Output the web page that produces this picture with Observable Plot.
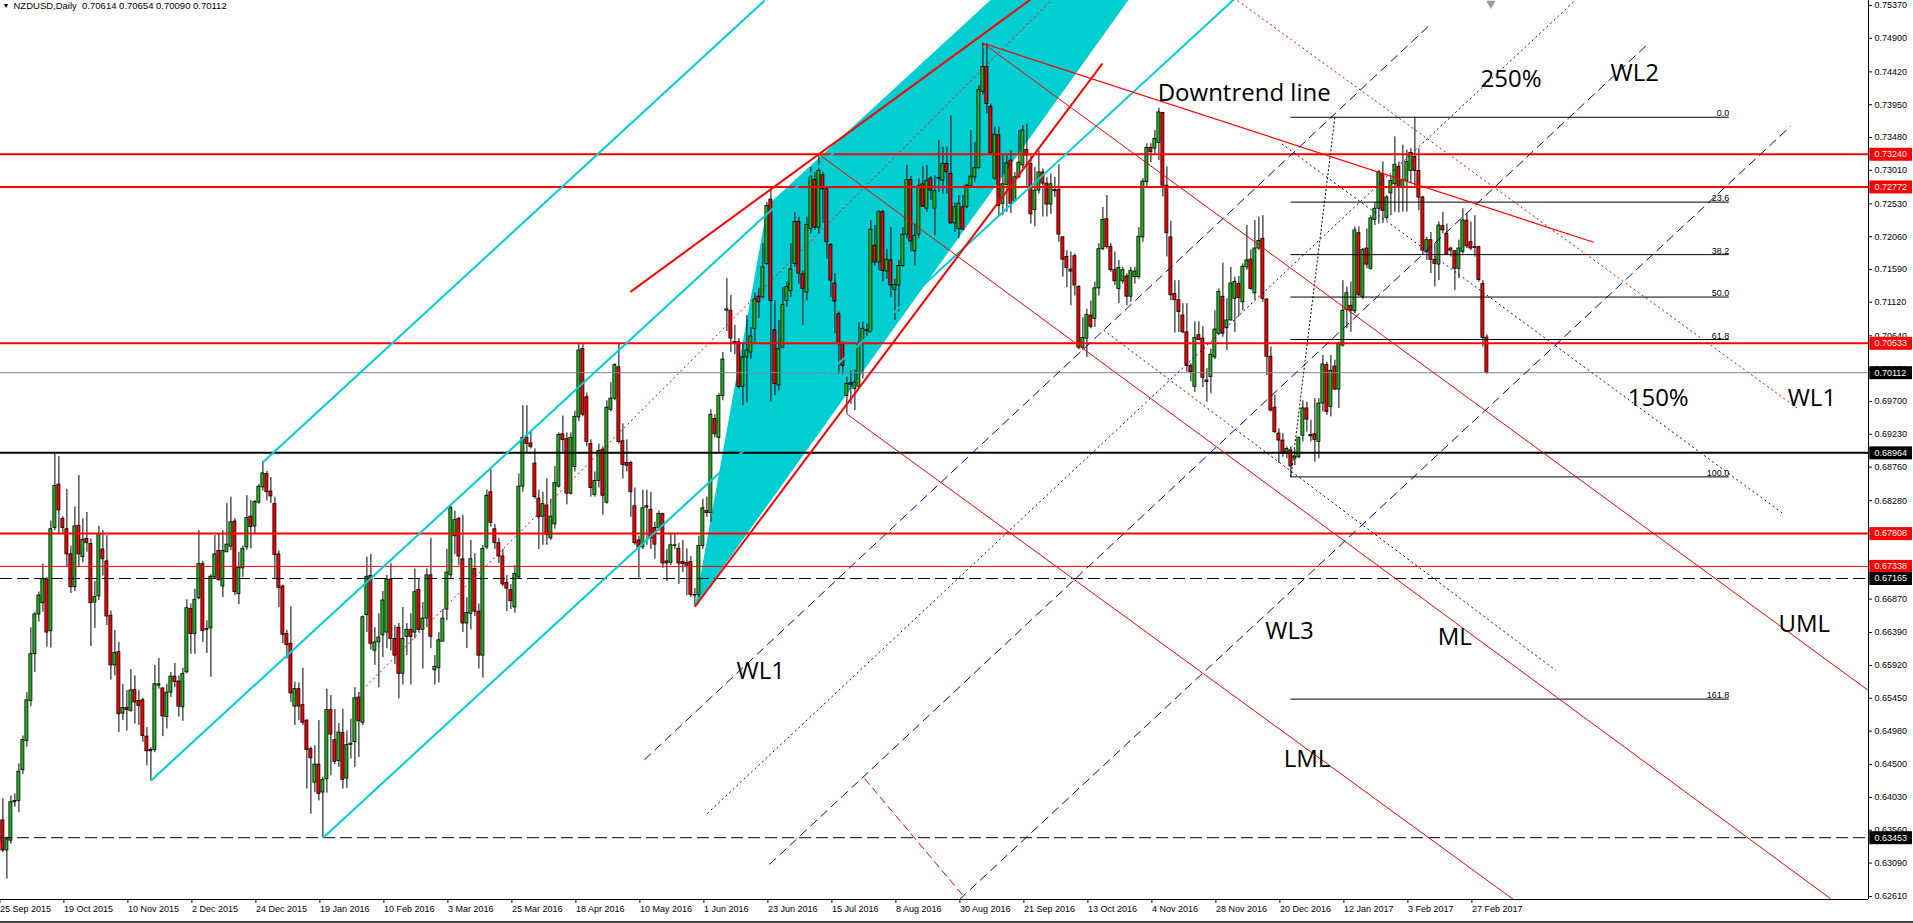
<!DOCTYPE html>
<html><head><meta charset="utf-8">
<script src="https://cdn.jsdelivr.net/npm/d3@7"></script>
<script src="https://cdn.jsdelivr.net/npm/@observablehq/plot@0.6"></script>
<style>
html,body{margin:0;padding:0;background:#fff;overflow:hidden;}
#chart svg{display:block;}
#bar{height:2px;background:#444;}
</style></head><body>
<div id="chart"></div><div id="bar"></div>
<script>
// ---------- DATA (prices in pips, i.e. x 1e-4) ----------
const opens = [
6340,6370,6327,6341,6396,6398,6442,6484,6541,6608,
6665,6681,6715,6641,6789,6851,6802,6787,6751,6704,
6792,6747,6773,6766,6682,6691,6758,6741,6663,6592,
6611,6523,6531,6527,6557,6541,6542,6490,6471,6471,
6563,6559,6518,6553,6576,6569,6532,6582,6673,6637,
6688,6737,6644,6645,6718,6756,6705,6754,6762,6798,
6694,6731,6761,6805,6791,6825,6847,6866,6841,6823,
6751,6705,6637,6623,6533,6558,6535,6513,6472,6424,
6450,6410,6429,6528,6485,6455,6495,6430,6478,6482,
6546,6510,6664,6720,6613,6625,6635,6639,6715,6630,
6646,6580,6633,6643,6639,6700,6643,6659,6721,6585,
6588,6626,6672,6721,6777,6802,6744,6652,6666,6730,
6669,6606,6761,6840,6787,6767,6748,6710,6700,6675,
6718,6848,6918,6910,6881,6831,6805,6821,6774,6794,
6848,6923,6916,6838,6876,6947,7045,6976,6909,6836,
6856,6901,6825,6958,6974,7019,6913,6882,6882,6820,
6771,6761,6818,6815,6789,6789,6809,6741,6739,6764,
6759,6740,6739,6740,6693,6693,6763,6813,6810,6945,
6918,6978,7100,7100,7055,7055,6991,7033,7040,7074,
7120,7119,7167,7259,7072,6993,7047,7114,7128,7167,
7227,7152,7126,7217,7287,7219,7294,7274,7194,7139,
7095,7052,6978,6996,6988,6991,7056,7072,7069,7193,
7169,7241,7156,7172,7130,7136,7164,7209,7287,7185,
7209,7281,7246,7289,7246,7290,7286,7310,7296,7225,
7217,7248,7248,7278,7291,7304,7413,7449,7392,7289,
7351,7253,7280,7315,7257,7291,7308,7330,7310,7244,
7272,7298,7282,7252,7273,7273,7205,7177,7159,7178,
7134,7047,7060,7093,7088,7132,7188,7231,7191,7158,
7131,7142,7149,7120,7148,7148,7205,7284,7333,7332,
7340,7383,7279,7205,7124,7115,7093,7069,7021,6991,
7065,7060,7000,7005,7033,7067,7120,7075,7086,7117,
7138,7112,7162,7173,7125,7189,7203,7116,7034,6961,
6924,6914,6895,6900,6888,6890,6921,6960,6922,6923,
6912,6967,7022,6962,7020,6987,7050,7101,7107,7099,
7211,7120,7189,7160,7230,7246,7296,7233,7268,7281,
7306,7276,7286,7300,7320,7300,7262,7184,7201,7173,
7166,7221,7210,7189,7185,7160,7184,7229,7198,7191,
7191,7138,7061.4];
const highs = [
6385,6401,6346,6405,6408,6451,6491,6553,6646,6668,
6697,6737,6718,6799,6896,6891,6805,6844,6763,6819,
6864,6802,6811,6773,6712,6791,6785,6778,6670,6642,
6625,6565,6556,6586,6577,6556,6545,6503,6474,6592,
6602,6560,6565,6582,6595,6577,6588,6686,6680,6701,
6785,6741,6656,6722,6778,6780,6785,6824,6833,6802,
6754,6763,6835,6828,6828,6851,6883,6870,6861,6833,
6756,6707,6642,6676,6568,6567,6588,6514,6475,6477,
6513,6432,6558,6549,6529,6509,6529,6498,6515,6560,
6553,6663,6747,6751,6646,6666,6698,6721,6738,6649,
6652,6675,6652,6666,6730,6715,6682,6730,6774,6606,
6639,6672,6758,6820,6813,6804,6807,6689,6771,6752,
6680,6764,6843,6872,6794,6774,6758,6721,6708,6735,
6866,6964,6964,6928,6902,6843,6840,6859,6830,6877,
6925,6949,6925,6925,6956,7053,7053,6982,6915,6869,
6909,6905,6971,6997,7024,7053,6938,6915,6884,6846,
6777,6843,6843,6840,6797,6813,6810,6758,6781,6781,
6767,6771,6759,6748,6702,6777,6830,6833,6958,6951,
6981,7040,7146,7122,7079,7060,7053,7093,7076,7125,
7132,7196,7255,7274,7114,7086,7133,7141,7196,7241,
7234,7157,7234,7305,7298,7324,7298,7277,7196,7153,
7098,7055,7005,7014,7015,7083,7084,7081,7229,7222,
7243,7243,7188,7219,7145,7172,7219,7308,7292,7224,
7289,7306,7308,7292,7293,7344,7334,7334,7379,7254,
7265,7265,7281,7358,7341,7422,7483,7482,7396,7363,
7363,7322,7324,7329,7298,7358,7365,7367,7322,7305,
7329,7303,7291,7296,7291,7309,7206,7186,7184,7181,
7136,7090,7102,7114,7141,7196,7248,7265,7196,7184,
7172,7162,7153,7162,7162,7219,7289,7339,7339,7358,
7390,7384,7306,7228,7143,7143,7110,7110,7024,7084,
7084,7077,7017,7045,7100,7131,7168,7117,7162,7148,
7149,7167,7222,7187,7229,7234,7236,7117,7048,6979,
6931,6924,6905,6905,6901,6919,6971,6969,6943,6974,
6974,7036,7026,7036,7029,7055,7143,7134,7141,7220,
7220,7189,7217,7236,7255,7301,7313,7265,7294,7349,
7313,7337,7330,7332,7377,7332,7264,7205,7212,7196,
7227,7241,7224,7191,7186,7201,7246,7239,7227,7236,
7192,7143,7065.4];
const lows = [
6330,6324,6286,6336,6389,6381,6436,6475,6533,6582,
6654,6668,6618,6617,6785,6781,6780,6732,6695,6698,
6732,6739,6754,6619,6645,6685,6720,6649,6571,6577,
6496,6513,6498,6525,6508,6506,6482,6448,6427,6467,
6558,6490,6501,6546,6560,6518,6512,6580,6608,6608,
6686,6625,6609,6575,6716,6713,6689,6754,6756,6692,
6679,6718,6757,6759,6780,6823,6842,6828,6824,6716,
6675,6623,6601,6539,6506,6513,6506,6415,6379,6410,
6398,6345,6409,6434,6450,6446,6415,6416,6458,6446,
6460,6506,6639,6614,6592,6560,6603,6616,6613,6593,
6544,6564,6606,6564,6630,6639,6587,6646,6616,6564,
6567,6626,6656,6715,6751,6735,6639,6616,6643,6662,
6587,6574,6758,6790,6758,6738,6705,6669,6672,6667,
6715,6840,6895,6902,6830,6758,6764,6764,6771,6787,
6846,6895,6822,6836,6869,6941,6948,6905,6833,6833,
6846,6807,6823,6955,6971,6909,6859,6869,6804,6764,
6717,6758,6764,6758,6744,6784,6731,6712,6735,6758,
6708,6725,6692,6689,6677,6689,6758,6804,6797,6918,
6895,6971,7070,7040,7037,6988,6964,6968,7030,7053,
7089,7117,7165,6969,6978,6985,7045,7105,7119,7162,
7138,7079,7114,7210,7215,7210,7225,7174,7119,7067,
7009,7009,6952,6966,6957,6990,7002,7062,7067,7164,
7157,7141,7145,7119,7086,7098,7162,7203,7184,7164,
7203,7248,7241,7258,7207,7269,7267,7267,7224,7212,
7203,7215,7246,7277,7284,7303,7409,7382,7323,7287,
7236,7236,7241,7239,7255,7289,7303,7277,7224,7220,
7267,7234,7234,7238,7262,7198,7148,7133,7107,7121,
7044,7043,7033,7074,7076,7121,7186,7188,7155,7136,
7110,7138,7107,7112,7138,7145,7198,7277,7312,7325,
7315,7263,7177,7114,7068,7069,7067,7012,6998,6983,
7057,6990,6969,6981,7030,7065,7062,7043,7085,7069,
7091,7100,7158,7129,7115,7186,7112,7007,6955,6924,
6881,6890,6888,6862,6878,6888,6912,6926,6912,6883,
6888,6955,6950,6948,6986,6960,7048,7074,7069,7096,
7120,7116,7160,7158,7222,7224,7225,7229,7236,7241,
7240,7241,7241,7282,7277,7243,7179,7172,7153,7134,
7143,7210,7179,7177,7129,7146,7181,7189,7186,7177,
7141,7048,7009];
const closes = [
6370,6327,6343,6396,6398,6440,6485,6542,6608,6665,
6692,6716,6639,6787,6849,6814,6789,6751,6704,6791,
6751,6772,6767,6681,6690,6780,6744,6662,6592,6610,
6522,6531,6528,6556,6539,6534,6491,6469,6469,6565,
6565,6519,6553,6576,6568,6533,6580,6674,6637,6686,
6737,6641,6643,6719,6751,6714,6756,6765,6797,6697,
6732,6759,6803,6790,6826,6848,6867,6840,6834,6750,
6703,6636,6621,6552,6558,6533,6510,6471,6459,6450,
6408,6428,6528,6493,6454,6496,6428,6478,6480,6545,
6512,6661,6719,6623,6625,6632,6685,6715,6630,6606,
6580,6630,6643,6633,6697,6643,6659,6721,6633,6590,
6628,6659,6725,6817,6800,6748,6652,6667,6744,6669,
6606,6759,6835,6796,6767,6748,6708,6702,6684,6723,
6848,6918,6909,6905,6833,6804,6823,6779,6805,6853,
6922,6915,6838,6918,6948,7043,6951,6912,6846,6856,
6899,6835,6961,6974,7022,6912,6879,6878,6840,6767,
6761,6817,6820,6774,6765,6809,6738,6738,6764,6763,
6738,6737,6735,6693,6692,6763,6817,6810,6951,6923,
6978,7030,7102,7060,7053,6991,7033,7043,7063,7116,
7112,7162,7250,7114,6995,7045,7108,7134,7159,7227,
7153,7131,7223,7292,7219,7300,7274,7198,7143,7113,
7052,7021,6995,6994,6997,7052,7074,7071,7216,7169,
7241,7157,7173,7136,7137,7164,7209,7287,7199,7207,
7278,7249,7286,7272,7271,7289,7310,7298,7225,7248,
7253,7216,7279,7292,7304,7416,7449,7396,7325,7352,
7250,7281,7311,7253,7291,7312,7358,7322,7238,7272,
7298,7282,7252,7281,7271,7209,7173,7161,7156,7136,
7047,7061,7094,7077,7132,7188,7230,7191,7158,7142,
7161,7158,7120,7157,7156,7206,7285,7333,7327,7346,
7384,7279,7211,7122,7115,7098,7069,7021,7012,7061,
7058,7004,6998,7037,7073,7127,7067,7086,7139,7141,
7118,7163,7172,7131,7189,7200,7117,7034,6957,6926,
6914,6895,6902,6877,6891,6918,6960,6944,6920,6915,
6967,7023,6955,7014,6987,7053,7100,7125,7100,7215,
7122,7187,7166,7232,7246,7298,7243,7262,7286,7309,
7276,7287,7313,7326,7300,7262,7186,7201,7173,7167,
7222,7215,7180,7186,7160,7189,7229,7192,7189,7190,
7144,7061,7011.2];

const dateLabels = ["25 Sep 2015","19 Oct 2015","10 Nov 2015","2 Dec 2015","24 Dec 2015","19 Jan 2016",
 "10 Feb 2016","3 Mar 2016","25 Mar 2016","18 Apr 2016","10 May 2016","1 Jun 2016","23 Jun 2016",
 "15 Jul 2016","8 Aug 2016","30 Aug 2016","21 Sep 2016","13 Oct 2016","4 Nov 2016","28 Nov 2016",
 "20 Dec 2016","12 Jan 2017","3 Feb 2017","27 Feb 2017"];
const dateTickBars = [0,16,32,48,64,80,96,112,128,144,160,176,192,208,224,240,256,272,288,304,320,336,352,368];

// right-axis tick labels visible in the chart (0.67810 / 0.67340 sit fully under price boxes)
const priceTicks = [0.75370,0.74900,0.74420,0.73950,0.73480,0.73010,0.72530,0.72060,0.71590,0.71120,
 0.70640,0.70170,0.69700,0.69230,0.68760,0.68280,0.66870,0.66390,0.65920,0.65450,
 0.64980,0.64500,0.64030,0.63560,0.63090,0.62610];

// horizontal levels
const redThickLevels = [0.73240, 0.72772, 0.70533, 0.67808];
const redThinLevels = [0.67338];
const blackThickLevels = [0.68964];
const dashedLevels = [0.67165, 0.63453];
const currentPrice = [0.70112];

// Fibonacci retracement (anchors: bar index, price)
const fibLevels = [0, 23.6, 38.2, 50.0, 61.8, 100.0, 161.8];
const fibLowBar = 323, fibLow = 0.6862, fibHighBar = 334, fibHigh = 0.7377, fibEndBar = 432.6;

// drawn objects: [bar1, price1, bar2, price2]
const cyanLines = [[38,0.6427,250,0.7544],[81,0.6345,309,0.7547],[66,0.6883,191.4,0.7544]];
const cyanFill = [[174,0.6676],[192.15,0.7251],[348.5,0.8075]];
const redThickLines = [[157.9,0.7127,258,0.7546],[174,0.6676,275.9,0.7454]];
const downtrendLine = [[246,0.7483,398.7,0.7198]];
const pitchforkLines = [[246,0.7483,467.4,0.6556],[205,0.7324,457.9,0.6258],[212,0.6952,378.6,0.6257]];
const redDottedLines = [[90,0.6552,263,0.7544],[309.7,0.7544,449.7,0.6960]];
const redDashedLines = [[216.4,0.6430,241.4,0.6260]];
const blueDashedLines = [[161.4,0.6457,357.9,0.7510],[192.65,0.6307,411.9,0.7480],[240.2,0.6257,447.9,0.7364]];
const blueDottedLines = [[177.1,0.6380,394,0.7544],[320.7,0.7339,445.9,0.6810],[276.2,0.7072,389.2,0.6585]];

const annotText = ["Downtrend line","250%","WL2","150%","WL1","WL1","WL3","ML","UML","LML"];
const annotBar = [289.7,370.4,402.9,407.2,447.2,184.4,316.6,359.7,444.9,321.2];
const annotPrice = [0.7412,0.7431,0.7440,0.6974,0.6974,0.6583,0.6641,0.6632,0.6651,0.6457];

const shiftMarkerBar = [373];
const header = "NZDUSD,Daily  0.70614 0.70654 0.70090 0.70112";

// ---------- CHART ----------
const W = 1913, H = 921, MR = 45, MB = 22;
const xDomain = [0.4, 467.4];
const yDomain = [0.62568, 0.75442];
const pricePerPx = (yDomain[1]-yDomain[0])/(H-MB);
const barPerPx = (xDomain[1]-xDomain[0])/(W-MR);

const bars = opens.map((o,i)=>({i, o:o/1e4, h:highs[i]/1e4, l:lows[i]/1e4, c:closes[i]/1e4}));
const seg = arr => arr.map(([i1,p1,i2,p2])=>({i1,p1,i2,p2}));
const fillPts = cyanFill.map(([i,p])=>({i,p}));
const annots = annotText.map((t,k)=>({t, i:annotBar[k], p:annotPrice[k]}));
const fibData = fibLevels.map(l=>({l, p: fibHigh - l/100*(fibHigh-fibLow)}));
const boxes = [
  ...redThickLevels.map(p=>({p, c:"#ff0000"})),
  ...redThinLevels.map(p=>({p, c:"#ff0000"})),
  ...currentPrice.map(p=>({p, c:"#000000"})),
  ...blackThickLevels.map(p=>({p, c:"#000000"})),
  ...dashedLevels.map(p=>({p, c:"#000000"}))
];
const font = "'Liberation Sans', Arial, sans-serif";
const bull = "#22b422", bear = "#ff0000", cyan = "#00CED1", navy = "#000099";
const L = o => Object.assign({x1:"i1", y1:"p1", x2:"i2", y2:"p2", clip:true}, o);

const chart = Plot.plot({
  width: W, height: H, marginLeft: 0, marginTop: 0, marginRight: MR, marginBottom: MB,
  style: {fontFamily: font, fontSize: "9px", background: "#fff", color: "#000", overflow: "visible"},
  x: {type: "linear", domain: xDomain, axis: null},
  y: {type: "linear", domain: yDomain, axis: null},
  marks: [
    Plot.line(fillPts, {x:"i", y:"p", fill: cyan, stroke: "none", clip: true}),
    Plot.ruleX(bars, {x:"i", y1:"l", y2:"h", stroke:"#000", strokeWidth:1}),
    Plot.rect(bars, {x1: d=>d.i-0.38, x2: d=>d.i+0.38, y1:"o", y2:"c",
      fill: d => d.c >= d.o ? bull : bear, stroke:"#000", strokeWidth:0.8}),
    // horizontal levels
    Plot.ruleY(redThickLevels, {stroke:"#ff0000", strokeWidth:2}),
    Plot.ruleY(redThinLevels, {stroke:"#ff0000", strokeWidth:1}),
    Plot.ruleY(blackThickLevels, {stroke:"#000", strokeWidth:2}),
    Plot.ruleY(dashedLevels, {stroke:"#000", strokeWidth:1, strokeDasharray:"12,5"}),
    Plot.ruleY(currentPrice, {stroke:"#778899", strokeWidth:1}),
    // fibonacci
    Plot.ruleY(fibData, {y:"p", x1: ()=>fibLowBar, x2: ()=>fibEndBar, stroke:"#000", strokeWidth:1}),
    Plot.text(fibData, {x: ()=>fibEndBar, y:"p", text: d=>d.l.toFixed(1), textAnchor:"end",
      lineAnchor:"bottom", dy:-1, fontSize:9, fill:"#000"}),
    Plot.link([{i1:fibLowBar,p1:fibLow,i2:fibHighBar,p2:fibHigh}], L({stroke:"#000", strokeDasharray:"2,2"})),
    // drawn lines
    Plot.link(seg(cyanLines), L({stroke: cyan, strokeWidth: 2})),
    Plot.link(seg(redThickLines), L({stroke:"#ff0000", strokeWidth:2})),
    Plot.link(seg(downtrendLine), L({stroke:"#ff0000", strokeWidth:1.2})),
    Plot.link(seg(pitchforkLines), L({stroke:"#ff0000", strokeWidth:1})),
    Plot.link(seg(redDottedLines), L({stroke:"#ff0000", strokeWidth:1, strokeDasharray:"2,3"})),
    Plot.link(seg(redDashedLines), L({stroke:"#ff0000", strokeWidth:1, strokeDasharray:"8,4"})),
    Plot.link(seg(blueDashedLines), L({stroke: navy, strokeWidth:1, strokeDasharray:"9,5"})),
    Plot.link(seg(blueDottedLines), L({stroke: navy, strokeWidth:1, strokeDasharray:"2,3"})),
    // annotations
    Plot.text(annots, {x:"i", y:"p", text:"t", textAnchor:"start", lineAnchor:"middle",
      fontSize:24, fontFamily:"'Open Sans', sans-serif", fill:"#000"}),
    // chart-shift marker
    Plot.dot(shiftMarkerBar, {x: d=>d, frameAnchor:"top", dy:3, symbol:"triangle", rotate:180, r:3.5,
      fill:"#9a9a9a", stroke:"none"}),
    // axes
    Plot.ruleX([xDomain[1]], {stroke:"#000", strokeWidth:1}),
    Plot.ruleY([yDomain[0]], {stroke:"#000", strokeWidth:1}),
    Plot.axisY(priceTicks, {anchor:"right", tickFormat: d=>d.toFixed(5), tickSize:3, tickPadding:3, fontSize:9}),
    Plot.axisX(dateTickBars, {anchor:"bottom", tickFormat: d=>dateLabels[dateTickBars.indexOf(d)],
      textAnchor:"start", dx:1, tickSize:4, tickPadding:2, fontSize:9}),
    // price boxes
    Plot.rect(boxes, {x1: ()=>xDomain[1]+1.3*barPerPx, x2: ()=>xDomain[1]+44*barPerPx,
      y1: d=>d.p-7*pricePerPx, y2: d=>d.p+6*pricePerPx, fill: d=>d.c}),
    Plot.text(boxes, {x: ()=>xDomain[1]+6*barPerPx, y:"p", text: d=>d.p.toFixed(5), fill:"#fff",
      textAnchor:"start", fontSize:9}),
    // header
    Plot.text(["\u25BC"], {frameAnchor:"top-left", dx:2, dy:3, textAnchor:"start", lineAnchor:"top", fontSize:7, fill:"#000"}),
    Plot.text([header], {frameAnchor:"top-left", dx:13, dy:2, textAnchor:"start", lineAnchor:"top", fontSize:9.5, fill:"#000"})
  ]
});
document.getElementById("chart").appendChild(chart);
</script>
</body></html>
